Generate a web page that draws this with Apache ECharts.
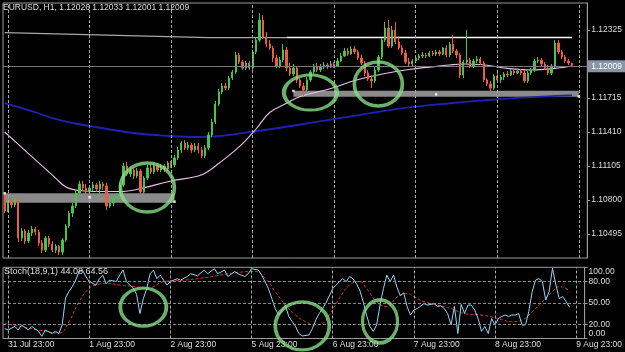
<!DOCTYPE html>
<html><head><meta charset="utf-8">
<script src="https://cdn.jsdelivr.net/npm/echarts@6/dist/echarts.min.js"></script>
<style>html,body{margin:0;padding:0;background:#000}#c{width:625px;height:352px}</style>
</head><body><div id="c"></div>
<script>
// ---------- categories / ticks ----------
const dayNames = ['31 Jul','1 Aug','2 Aug','5 Aug','6 Aug','7 Aug','8 Aug','9 Aug'];
const firstHourOfFirstDay = 22;
const padCategories = 2;
const timeTicks = ['31 Jul 23:00','1 Aug 23:00','2 Aug 23:00','5 Aug 23:00','6 Aug 23:00','7 Aug 23:00','8 Aug 23:00','9 Aug 23:00'];
const priceTicks = [1.12325, 1.11715, 1.11410, 1.11105, 1.10800, 1.10495];
const stochTicks = [0, 20, 50, 80, 100];
const stochLevels = [20, 50, 80];
const priceMin = 1.1027984, priceMax = 1.1256719;
const greenLevel = 1.10279;

// ---------- OHLC (H1) ----------
const openPx = [
1.10854,1.10701,1.10791,1.10755,1.10800,1.10459,1.10522,1.10432,1.10504,1.10540,
1.10513,1.10414,1.10351,1.10459,1.10405,1.10351,1.10387,1.10333,1.10441,1.10567,
1.10683,1.10746,1.10863,1.10944,1.10908,1.10872,1.10908,1.10935,1.10899,1.10944,
1.10926,1.10746,1.10773,1.10818,1.10836,1.10935,1.11105,1.11033,1.11069,1.11015,
1.11060,1.10872,1.10997,1.11087,1.11051,1.11105,1.11069,1.11105,1.11078,1.11132,
1.11114,1.11177,1.11249,1.11311,1.11267,1.11293,1.11249,1.11284,1.11249,1.11195,
1.11267,1.11383,1.11500,1.11661,1.11769,1.11823,1.11805,1.11894,1.11948,1.12101,
1.12038,1.11984,1.12029,1.11984,1.12128,1.12235,1.12415,1.12262,1.12199,1.12164,
1.12074,1.12002,1.12056,1.12146,1.11984,1.11930,1.11984,1.11877,1.11823,1.11787,
1.11877,1.11948,1.12002,1.11966,1.11993,1.12011,1.11993,1.12020,1.12002,1.12047,
1.12092,1.12137,1.12110,1.12155,1.12128,1.12074,1.12029,1.11939,1.11885,1.11868,
1.11966,1.12083,1.12235,1.12343,1.12181,1.12325,1.12217,1.12164,1.12119,1.12038,
1.12020,1.12047,1.12074,1.12092,1.12101,1.12092,1.12119,1.12110,1.12128,1.12110,
1.12164,1.12101,1.12199,1.12137,1.12101,1.11921,1.12038,1.12056,1.12002,1.12047,
1.12065,1.12029,1.11877,1.11841,1.11805,1.11912,1.11877,1.11903,1.11930,1.11921,
1.11957,1.11939,1.11957,1.11939,1.11868,1.11939,1.11966,1.12047,1.12056,1.12020,
1.11984,1.11939,1.12002,1.12208,1.12128,1.12083,1.12047,1.12026];
const highPx = [
1.10872,1.10809,1.10809,1.10827,1.10809,1.10549,1.10540,1.10531,1.10567,1.10558,
1.10531,1.10441,1.10477,1.10477,1.10432,1.10405,1.10396,1.10459,1.10585,1.10701,
1.10773,1.10890,1.10971,1.10971,1.10944,1.10935,1.10962,1.10953,1.10971,1.10962,
1.10953,1.10809,1.10836,1.10863,1.10953,1.11132,1.11141,1.11096,1.11087,1.11087,
1.11078,1.11015,1.11114,1.11123,1.11132,1.11132,1.11123,1.11123,1.11150,1.11150,
1.11204,1.11276,1.11329,1.11338,1.11320,1.11311,1.11311,1.11311,1.11276,1.11293,
1.11410,1.11527,1.11688,1.11796,1.11850,1.11850,1.11912,1.11966,1.12128,1.12119,
1.12056,1.12047,1.12047,1.12146,1.12262,1.12477,1.12460,1.12307,1.12235,1.12181,
1.12101,1.12083,1.12199,1.12173,1.12029,1.12020,1.12002,1.11894,1.11850,1.11903,
1.11966,1.12020,1.12029,1.12020,1.12038,1.12029,1.12047,1.12038,1.12074,1.12119,
1.12164,1.12164,1.12181,1.12181,1.12146,1.12101,1.12047,1.11966,1.11921,1.12002,
1.12101,1.12253,1.12397,1.12415,1.12361,1.12397,1.12271,1.12190,1.12146,1.12074,
1.12065,1.12092,1.12110,1.12128,1.12119,1.12137,1.12137,1.12146,1.12146,1.12173,
1.12190,1.12217,1.12280,1.12155,1.12119,1.12056,1.12325,1.12074,1.12065,1.12092,
1.12083,1.12047,1.11894,1.11868,1.11930,1.11939,1.11921,1.11948,1.11957,1.11975,
1.11975,1.11975,1.11975,1.11966,1.11957,1.11984,1.12065,1.12083,1.12074,1.12038,
1.12011,1.12020,1.12235,1.12235,1.12146,1.12101,1.12065,1.12033];
const lowPx = [
1.10683,1.10692,1.10728,1.10737,1.10423,1.10432,1.10405,1.10414,1.10477,1.10486,
1.10387,1.10324,1.10333,1.10378,1.10333,1.10324,1.10307,1.10307,1.10423,1.10549,
1.10647,1.10728,1.10845,1.10881,1.10845,1.10854,1.10881,1.10872,1.10836,1.10890,
1.10710,1.10728,1.10746,1.10800,1.10818,1.10917,1.11015,1.11006,1.10988,1.10997,
1.10854,1.10854,1.10980,1.11033,1.11033,1.11051,1.11051,1.11051,1.11060,1.11087,
1.11096,1.11159,1.11222,1.11249,1.11249,1.11222,1.11231,1.11222,1.11177,1.11177,
1.11249,1.11365,1.11482,1.11643,1.11751,1.11787,1.11787,1.11877,1.11930,1.12020,
1.11966,1.11966,1.11966,1.11966,1.12110,1.12217,1.12244,1.12173,1.12146,1.12038,
1.11984,1.11984,1.12038,1.11957,1.11912,1.11912,1.11850,1.11805,1.11724,1.11769,
1.11859,1.11930,1.11948,1.11948,1.11975,1.11975,1.11984,1.11984,1.11993,1.12038,
1.12083,1.12092,1.12101,1.12110,1.12056,1.12011,1.11912,1.11868,1.11805,1.11850,
1.11948,1.12065,1.12217,1.12164,1.12164,1.12199,1.12146,1.12101,1.12020,1.12002,
1.12002,1.12029,1.12056,1.12074,1.12074,1.12083,1.12092,1.12092,1.12092,1.12101,
1.12083,1.12083,1.12119,1.12074,1.11894,1.11894,1.12020,1.11984,1.11984,1.12029,
1.12011,1.11859,1.11823,1.11778,1.11787,1.11859,1.11850,1.11877,1.11903,1.11912,
1.11921,1.11930,1.11921,1.11850,1.11850,1.11921,1.11948,1.12029,1.12002,1.11966,
1.11921,1.11921,1.11984,1.12110,1.12065,1.12029,1.12011,1.12001];
const closePx = [
1.10701,1.10791,1.10755,1.10800,1.10459,1.10522,1.10432,1.10504,1.10540,1.10513,
1.10414,1.10351,1.10459,1.10405,1.10351,1.10387,1.10333,1.10441,1.10567,1.10683,
1.10746,1.10863,1.10944,1.10908,1.10872,1.10908,1.10935,1.10899,1.10944,1.10926,
1.10746,1.10773,1.10818,1.10836,1.10935,1.11105,1.11033,1.11069,1.11015,1.11060,
1.10872,1.10997,1.11087,1.11051,1.11105,1.11069,1.11105,1.11078,1.11132,1.11114,
1.11177,1.11249,1.11311,1.11267,1.11293,1.11249,1.11284,1.11249,1.11195,1.11267,
1.11383,1.11500,1.11661,1.11769,1.11823,1.11805,1.11894,1.11948,1.12101,1.12038,
1.11984,1.12029,1.11984,1.12128,1.12235,1.12415,1.12262,1.12199,1.12164,1.12074,
1.12002,1.12056,1.12146,1.11984,1.11930,1.11984,1.11877,1.11823,1.11787,1.11877,
1.11948,1.12002,1.11966,1.11993,1.12011,1.11993,1.12020,1.12002,1.12047,1.12092,
1.12137,1.12110,1.12155,1.12128,1.12074,1.12029,1.11939,1.11885,1.11868,1.11966,
1.12083,1.12235,1.12343,1.12181,1.12325,1.12217,1.12164,1.12119,1.12038,1.12020,
1.12047,1.12074,1.12092,1.12101,1.12092,1.12119,1.12110,1.12128,1.12110,1.12164,
1.12101,1.12199,1.12137,1.12101,1.11921,1.12038,1.12056,1.12002,1.12047,1.12065,
1.12029,1.11877,1.11841,1.11805,1.11912,1.11877,1.11903,1.11930,1.11921,1.11957,
1.11939,1.11957,1.11939,1.11868,1.11939,1.11966,1.12047,1.12056,1.12020,1.11984,
1.11939,1.12002,1.12208,1.12128,1.12083,1.12047,1.12029,1.12009];

// ---------- moving averages (read at bar indices) ----------
const blueMaIdx = [0,7,16,25,38,49,57,73,96,119,131,145,158,167];
const blueMaVal = [1.11670,1.11607,1.11518,1.11464,1.11401,1.11374,1.11365,1.11413,1.11522,1.11630,1.11668,1.11703,1.11727,1.11738];
const pinkMaIdx = [0,8,15,18,22,28,34,40,49,57,60,63,69,74,78,83,87,96,103,112,119,131,135,140,148,155,162,167];
const pinkMaVal = [1.11410,1.11189,1.10997,1.10917,1.10885,1.10876,1.10876,1.10903,1.10971,1.11015,1.11060,1.11128,1.11276,1.11437,1.11585,1.11668,1.11729,1.11800,1.11872,1.11935,1.11971,1.12011,1.12020,1.12016,1.11981,1.11966,1.11981,1.12002];

// ---------- drawn objects ----------
const grayTrendIdx = [0,60,83];
const grayTrendVal = [1.12301,1.12256,1.12257];
const whiteTrendIdx = [83,167];
const whiteTrendVal = [1.12257,1.12258];
const zoneFrom = [0, 85];
const zoneTo = [50, 169];
const zoneTop = [1.10860, 1.11780];
const zoneBottom = [1.10776, 1.11727];
const anchorIdx = [0,25,50,85,127,169];
const anchorVal = [1.10860,1.10824,1.10785,1.11778,1.11748,1.11728];
const circleMainIdx = [42,90,110];
const circleMainVal = [1.10912,1.11764,1.11841];
const circleMainSize = [[54,49],[53,35],[48,44]];
const circleStochIdx = [41,88,111];
const circleStochVal = [44,17.6,24];
const circleStochSize = [[46,38],[54,48],[35,43]];

// ---------- Stochastic (18,9,1) ----------
const stochMainIdx = [0,1,3,4,5,7,8,10,11,12,14,15,16,17,18,19,20,21,22,23,24,25,27,28,29,30,31,33,34,35,36,37,38,39,40,41,42,43,44,45,46,47,48,49,51,52,54,55,57,
59,60,62,63,65,66,68,69,71,72,73,75,76,78,79,80,81,82,83,84,85,86,87,88,90,91,92,93,94,95,96,97,98,99,100,101,102,103,104,105,106,107,108,109,110,111,112,113,114,115,
116,117,118,119,120,121,122,124,125,127,128,129,130,131,132,133,134,135,136,137,138,139,140,141,142,143,144,145,146,147,148,149,150,151,152,153,154,155,156,157,158,159,160,161,162,163,164,165,166,167];
const stochMainVal = [14,12,17,12,19,12,17,10,3,12,7,10,7,19,57,66,73,82,94,96,87,80,75,84,89,77,82,80,89,96,80,75,71,62,35,56,70,91,96,84,89,82,75,80,84,82,87,91,88,
96,91,98,91,96,87,94,91,87,91,98,96,89,70,56,42,33,40,47,31,24,17,7,3.5,5,14,26,35,42,50,60,70,75,80,84,80,87,84,77,68,52,33,17,10,19,47,70,89,80,89,
72,60,64,45,33,40,42,49,47,49,45,46,42,35,19,45,7,48,35,47,47,40,28,10,17,7,28,19,28,31,33,31,33,33,35,19,19,38,66,82,84,80,54,66,98.6,75,56,59,52,44.08];
const stochSignalIdx = [0,5,10,16,19,22,25,27,30,34,39,42,44,47,53,60,67,74,77,80,83,86,89,92,94,96,99,102,105,107,110,113,116,119,121,124,128,132,136,141,146,150,153,156,159,162,164,166,167];
const stochSignalVal = [21,16.6,12,7.7,23.6,51.7,70.5,75,77.5,75,72.7,70.5,72.7,80,82,86,91.5,94,84.5,66,47,33,23.6,19,21,33,56.5,75,80,70.5,51.7,45,58,63.5,58.7,51.7,47,42,35,33,28,23.6,26,37.6,51.7,66,72.7,70.5,64.56];

// ---------- build ----------
const categories = [];
dayNames.forEach((d, k) => {
  for (let h = (k === 0 ? firstHourOfFirstDay : 0); h < 24; h++) categories.push(d + ' ' + String(h).padStart(2, '0') + ':00');
});
for (let k = 0; k < padCategories; k++) categories.push(' '.repeat(k + 1));

const last = closePx.length - 1;
const candleData = openPx.map((o, i) => [o, closePx[i], lowPx[i], highPx[i]]);
const pairs = (idx, val) => idx.map((x, k) => [x, val[k]]);
const fmt5 = v => v.toFixed(5);
const FONT = 'Liberation Sans, Arial, sans-serif';
const txt = '#dedede';
const UP = '#48c448', DOWN = '#ea5e46';
const CIRCLE = '#86dc86';

const vDashed = (color) => ({
  silent: true, symbol: ['none', 'none'], label: { show: false }, animation: false,
  lineStyle: { color: color, type: [3, 2], width: 1 },
  data: timeTicks.map(t => ({ xAxis: t }))
});

const chart = echarts.init(document.getElementById('c'), null, { renderer: 'canvas' });
chart.setOption({
  backgroundColor: '#000',
  animation: false,
  title: [
    { text: 'EURUSD, H1, ' + [openPx[last], highPx[last], lowPx[last], closePx[last]].map(fmt5).join(' '),
      left: 3, top: 3, padding: 0,
      textStyle: { color: txt, fontSize: 8.5, fontWeight: 'normal', fontFamily: FONT } },
    { text: 'Stoch(18,9,1) ' + stochMainVal[stochMainVal.length - 1].toFixed(2) + ' ' + stochSignalVal[stochSignalVal.length - 1].toFixed(2),
      left: 4, top: 267.5, padding: 0,
      textStyle: { color: txt, fontSize: 9, fontWeight: 'normal', fontFamily: FONT } }
  ],
  grid: [
    { left: 3, top: 3, width: 586, height: 255, show: true, borderColor: '#9a9a9a', borderWidth: 1, backgroundColor: 'transparent' },
    { left: 3, top: 267.3, width: 586, height: 71.2, show: true, borderColor: '#9a9a9a', borderWidth: 1, backgroundColor: 'transparent' }
  ],
  xAxis: [
    { type: 'category', gridIndex: 0, data: categories, boundaryGap: true, show: false },
    { type: 'category', gridIndex: 1, data: categories, boundaryGap: true,
      axisLine: { show: false }, axisTick: { show: false }, splitLine: { show: false },
      axisLabel: { interval: (i, v) => timeTicks.includes(v), align: 'left', margin: 2,
        color: txt, fontSize: 8.5, fontFamily: FONT } }
  ],
  yAxis: [
    { type: 'value', gridIndex: 0, position: 'right', min: priceMin, max: priceMax,
      splitLine: { show: false },
      axisLine: { show: true, lineStyle: { color: '#9a9a9a' } },
      axisTick: { show: true, length: 3, customValues: priceTicks, lineStyle: { color: '#9a9a9a' } },
      axisLabel: { customValues: priceTicks, formatter: fmt5, margin: 4, color: txt, fontSize: 8.5, fontFamily: FONT } },
    { type: 'value', gridIndex: 1, position: 'right', min: 0, max: 100,
      splitLine: { show: false },
      axisLine: { show: true, lineStyle: { color: '#9a9a9a' } },
      axisTick: { show: true, length: 3, customValues: stochTicks, lineStyle: { color: '#9a9a9a' } },
      axisLabel: { customValues: stochTicks, formatter: v => v.toFixed(2), margin: 4, color: txt, fontSize: 8.5, fontFamily: FONT,
        verticalAlignMinLabel: 'bottom', verticalAlignMaxLabel: 'top' } }
  ],
  series: [
    { name: 'vgrid', type: 'line', xAxisIndex: 0, yAxisIndex: 0, data: [], z: 0, markLine: vDashed('#a8a8a8') },
    { name: 'MA slow', type: 'line', xAxisIndex: 0, yAxisIndex: 0, data: pairs(blueMaIdx, blueMaVal), smooth: 0.4,
      showSymbol: false, lineStyle: { color: '#2020b4', width: 1.8 }, z: 1, silent: true },
    { name: 'zones', type: 'line', xAxisIndex: 0, yAxisIndex: 0, data: [], z: 2, silent: true,
      markArea: { silent: true, itemStyle: { color: '#8a8a8a' },
        data: zoneFrom.map((f, k) => [{ xAxis: categories[f], yAxis: zoneTop[k] }, { xAxis: categories[zoneTo[k]], yAxis: zoneBottom[k] }]) } },
    { name: 'levels', type: 'line', xAxisIndex: 0, yAxisIndex: 0, data: [], z: 2, silent: true,
      markLine: { silent: true, symbol: ['none', 'none'], animation: false, data: [
        { yAxis: closePx[last], lineStyle: { color: '#7a7a7a', width: 1, type: 'solid' },
          label: { show: true, position: 'end', distance: 0, formatter: fmt5(closePx[last]), color: '#ffffff',
            backgroundColor: '#8796a6', padding: [2, 4, 1, 4], fontSize: 8.5, fontFamily: FONT } },
        { yAxis: greenLevel, lineStyle: { color: '#7edc6a', width: 2, type: 'solid' },
          label: { show: true, position: 'end', distance: 0, formatter: fmt5(greenLevel), color: '#000',
            backgroundColor: '#8fe07c', padding: [2, 4, 1, 4], fontSize: 8.5, fontFamily: FONT } }
      ] } },
    { name: 'trend gray', type: 'line', xAxisIndex: 0, yAxisIndex: 0, data: pairs(grayTrendIdx, grayTrendVal),
      showSymbol: false, lineStyle: { color: '#a8a8a8', width: 1.2 }, z: 2, silent: true },
    { name: 'trend white', type: 'line', xAxisIndex: 0, yAxisIndex: 0, data: pairs(whiteTrendIdx, whiteTrendVal),
      showSymbol: false, lineStyle: { color: '#f4f4f4', width: 1.5 }, z: 2, silent: true },
    { name: 'MA fast', type: 'line', xAxisIndex: 0, yAxisIndex: 0, data: pairs(pinkMaIdx, pinkMaVal), smooth: 0.4,
      showSymbol: false, lineStyle: { color: '#ecbcec', width: 1.1 }, z: 3, silent: true },
    { name: 'EURUSD', type: 'candlestick', xAxisIndex: 0, yAxisIndex: 0, data: candleData, barWidth: 1.8, z: 4, clip: false,
      itemStyle: { color: UP, color0: DOWN, borderColor: UP, borderColor0: DOWN, borderWidth: 1 } },
    { name: 'anchors', type: 'scatter', xAxisIndex: 0, yAxisIndex: 0, data: pairs(anchorIdx, anchorVal),
      symbol: 'rect', symbolSize: 2.5, itemStyle: { color: '#ffffff' }, z: 5, silent: true },
    { name: 'circles main', type: 'scatter', xAxisIndex: 0, yAxisIndex: 0, clip: false,
      data: circleMainIdx.map((x, k) => ({ value: [x, circleMainVal[k]], symbolSize: circleMainSize[k] })),
      symbol: 'circle', itemStyle: { color: 'rgba(0,0,0,0)', borderColor: CIRCLE, borderWidth: 3.5 }, z: 6, silent: true },

    { name: 'stoch grid', type: 'line', xAxisIndex: 1, yAxisIndex: 1, data: [], z: 0, silent: true,
      markLine: { silent: true, symbol: ['none', 'none'], label: { show: false }, animation: false,
        lineStyle: { color: '#a8a8a8', type: [3, 2], width: 1 },
        data: timeTicks.map(t => ({ xAxis: t })).concat(stochLevels.map(v => ({ yAxis: v, lineStyle: { color: '#8a8a8a', type: [3, 2] } }))) } },
    { name: 'signal', type: 'line', xAxisIndex: 1, yAxisIndex: 1, data: pairs(stochSignalIdx, stochSignalVal), smooth: 0.5,
      showSymbol: false, lineStyle: { color: '#d83a3a', width: 1, type: [3, 2] }, z: 2, silent: true },
    { name: 'main', type: 'line', xAxisIndex: 1, yAxisIndex: 1, data: pairs(stochMainIdx, stochMainVal),
      showSymbol: false, lineStyle: { color: '#8fd8f8', width: 1 }, z: 3, silent: true },
    { name: 'circles stoch', type: 'scatter', xAxisIndex: 1, yAxisIndex: 1, clip: false,
      data: circleStochIdx.map((x, k) => ({ value: [x, circleStochVal[k]], symbolSize: circleStochSize[k] })),
      symbol: 'circle', itemStyle: { color: 'rgba(0,0,0,0)', borderColor: CIRCLE, borderWidth: 3.5 }, z: 6, silent: true }
  ]
});
</script></body></html>
